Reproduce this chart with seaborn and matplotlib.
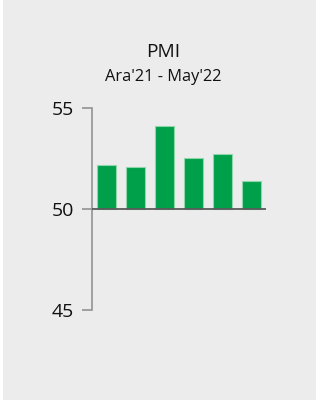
import matplotlib
matplotlib.use("Agg")
import matplotlib.pyplot as plt
import seaborn as sns
import pandas as pd
from matplotlib.patches import Rectangle

# PMI readings, Dec'21 - May'22
months = ["Ara'21", "Oca'22", "Şub'22", "Mar'22", "Nis'22", "May'22"]
pmi = [52.2, 52.1, 54.1, 52.5, 52.7, 51.4]
baseline = 50
y_ticks = [45, 50, 55]

df = pd.DataFrame({"month": months, "pmi": pmi})

sns.set_style("white")
plt.rcParams["font.family"] = ["Open Sans", "DejaVu Sans"]

fig = plt.figure(figsize=(3.19, 4.03), dpi=100)
fig.patch.set_facecolor("white")
fig.patches.append(Rectangle((3 / 319, 3 / 403), 313 / 319, 400 / 403,
                             transform=fig.transFigure, facecolor="#ececec",
                             edgecolor="none", zorder=-1))

ax = fig.add_axes([0.2884, 0.2308, 0.5455, 0.5012])
ax.set_zorder(2)
ax.set_facecolor("none")

sns.barplot(data=df, x="month", y="pmi", color="#00a04a", saturation=1,
            width=0.67, edgecolor="#8fd6a8", linewidth=0.8, ax=ax)

# bars grow from the 50 threshold, not from zero
for p in ax.patches:
    p.set_y(baseline)
    p.set_height(p.get_height() - baseline)

ax.axhline(baseline, color="#5a5a5a", linewidth=1.3, zorder=3)

ax.set_ylim(45, 55)
ax.set_xlim(-0.5, 5.5)
ax.set_yticks(y_ticks)
ax.set_xticks([])
ax.set_xlabel("")
ax.set_ylabel("")
ax.tick_params(axis="y", length=7, width=1.3, color="#9a9a9a", pad=6,
               labelsize=14, labelcolor="#111111", left=True)
for side in ["top", "right", "bottom"]:
    ax.spines[side].set_visible(False)
ax.spines["left"].set_color("#9a9a9a")
ax.spines["left"].set_linewidth(1.3)

fig.text(0.511, 0.871, "PMI", ha="center", va="center", fontsize=13.8,
         color="#111111")
fig.text(0.511, 0.809, "Ara'21 - May'22", ha="center", va="center",
         fontsize=11.8, color="#111111")

fig.savefig("out.png", dpi=100)
